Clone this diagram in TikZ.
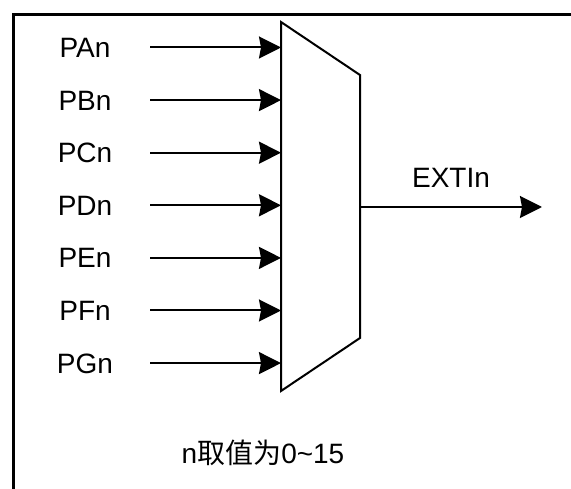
\documentclass[tikz,border=0pt]{standalone}
\usepackage{fontspec}
\setmainfont{Liberation Sans}
\newfontfamily\cjk{Noto Sans CJK SC}
\usetikzlibrary{
  arrows.meta,
  positioning
}
\tikzset{
  >={Stealth[length=22pt,width=22pt,inset=2pt]},
  line join=miter,
  every picture/.style={line width=2pt},
  frame/.style={line width=3pt},
  arrow/.style={->},
  sig/.style={font=\fontsize{28}{34}\selectfont, inner sep=0pt},
  inlabel/.style={sig, text height=20pt, text depth=0pt}
}

\begin{document}
\begin{tikzpicture}[x=1pt,y=-1pt]
  \useasboundingbox (0,0) rectangle (571,489);

  % frame, open at right and bottom
  \draw[frame] (13.5,489) -- (13.5,14.5) -- (571,14.5);

  % multiplexer
  \coordinate (mtl) at (281,22);
  \coordinate (mtr) at (360,75);
  \coordinate (mbr) at (360,338);
  \coordinate (mbl) at (281,391);
  \draw (mtl) -- (mtr) -- (mbr) -- (mbl) -- cycle;

  % port inputs
  \foreach \p [count=\i] in {A,B,C,D,E,F,G} {
    \pgfmathsetmacro{\yy}{47.5+52.6*(\i-1)}
    \node[inlabel] (l\p) at (85,\yy) {P\p n};
    \coordinate (t\p) at (150,\yy);
    \draw[arrow] (t\p) -- (t\p -| mtl);
  }

  % output
  \coordinate (out) at (542,207);
  \draw[arrow] (mtr |- out) -- (out);
  \node[sig, anchor=base] (ext) at (451,188) {EXTIn};

  \node[sig, anchor=base] (note) at (263,463) {n{\cjk 取值为}0\textasciitilde 15};
\end{tikzpicture}
\end{document}
